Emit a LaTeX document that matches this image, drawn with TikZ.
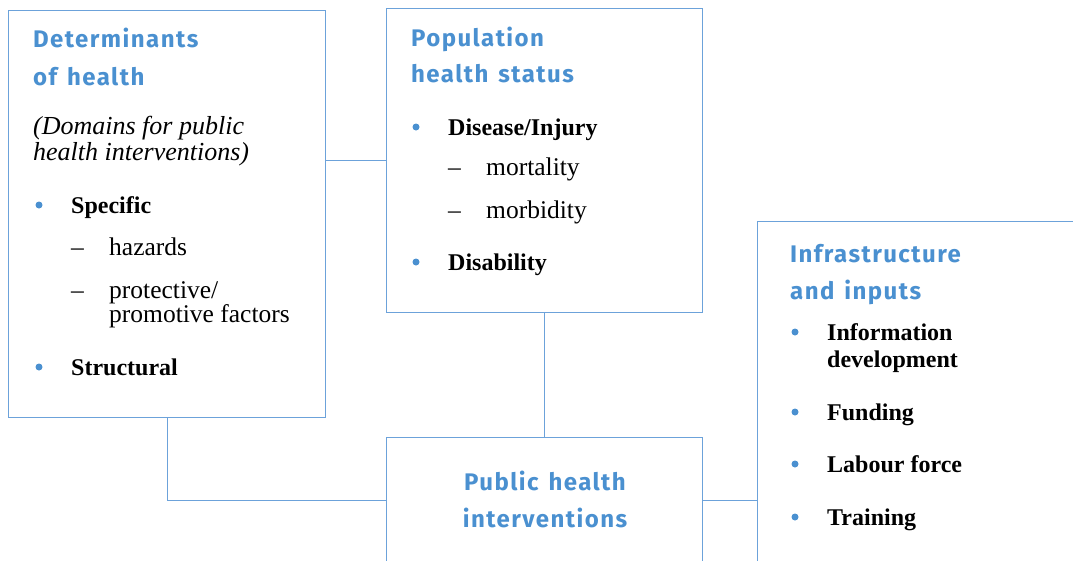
\documentclass[tikz,border=0pt]{standalone}
\usepackage{fontspec}
\setmainfont{Liberation Serif}
\newfontfamily\headfont[LetterSpace=6,WordSpace=1.4]{Fira Sans}
\usetikzlibrary{positioning}
\definecolor{hblue}{HTML}{4A90D0}
\definecolor{frame}{HTML}{6CA2DA}
\tikzset{panel/.style={draw=frame,line width=1.4pt,inner sep=0pt,anchor=north west},head/.style={anchor=base west,inner sep=0pt,text=hblue,font=\headfont\bfseries\fontsize{24}{24}\selectfont},item/.style={anchor=base west,inner sep=0pt,font=\bfseries\fontsize{24}{24}\selectfont},sub/.style={anchor=base west,inner sep=0pt,font=\fontsize{25.5}{24}\selectfont},note/.style={sub,font=\itshape\fontsize{26}{24}\selectfont},dot/.style={circle,fill=hblue,inner sep=0pt,minimum size=7pt},link/.style={draw=frame,line width=1.4pt}}

\begin{document}
\begin{tikzpicture}[x=1pt,y=-1pt]
\useasboundingbox (0,0) rectangle (1073,560);
% panels
\node[panel,minimum width=317pt,minimum height=407pt] (det) at (8,10) {};
\node[panel,minimum width=316pt,minimum height=304pt] (pop) at (386,8) {};
\node[panel,minimum width=340pt,minimum height=360pt] (inf) at (757,221) {};
\node[panel,minimum width=316pt,minimum height=126pt] (int) at (386,437) {};
% headings
\foreach \x/\y/\t [count=\i] in {33/47/Determinants,33/85/of health,411/46/Population,411/82/health status,790/262/Infrastructure,790/299/and inputs}
 {\node[head] (hd\i) at (\x,\y) {\t};}
\node[head,anchor=base] (ph1) at (545,490) {Public health};
\node[head,anchor=base] (ph2) at (545,527) {interventions};
\node[note] (dom1) at (33,134) {(Domains for public};
\node[note] (dom2) at (33,160) {health interventions)};
% bullets and items
\foreach \x/\y/\t [count=\i] in {71/213/Specific,71/375/Structural,448/135/{Disease/Injury},448/270/Disability,827/340/Information,827/420/Funding,827/472/Labour force,827/525/Training}
 {\node[dot] (bu\i) at (\x-32,\y-8) {};\node[item] (it\i) at (\x,\y) {\t};}
\node[item] (it9) at (827,367) {development};
% sub items
\foreach \x/\y/\t [count=\i] in {71/255/hazards,71/298/{protective/},448/175/mortality,448/218/morbidity}
 {\node[sub] (da\i) at (\x,\y) {--};\node[sub] (si\i) at (\x+38,\y) {\t};}
\node[sub] (si5) at (109,322) {promotive factors};
% links
\draw[link] (pop.west) -- (pop.west -| det.east);
\draw[link] (pop.south) -- (int.north);
\draw[link] (det.south) |- (int.west);
\draw[link] (int.east) -- (int.east -| inf.west);
\end{tikzpicture}
\end{document}
